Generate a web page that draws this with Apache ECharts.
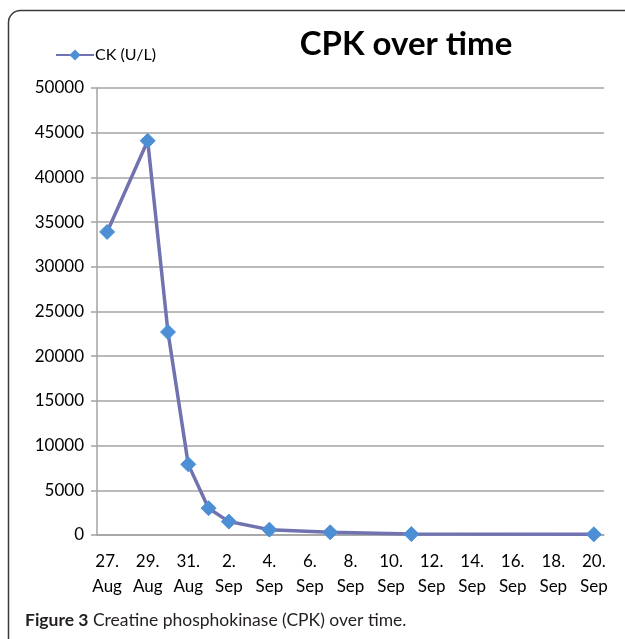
<!DOCTYPE html>
<html>
<head>
<meta charset="utf-8">
<script src="https://cdn.jsdelivr.net/npm/echarts@6/dist/echarts.min.js"></script>
<style>
  html, body { margin: 0; padding: 0; background: #fff; }
  #chart { width: 625px; height: 639px; }
</style>
</head>
<body>
<div id="chart"></div>
<script>
(function() {
  'use strict';

  // one category per day, 27 Aug .. 20 Sep
  var days = [
    '27. Aug', '28. Aug', '29. Aug', '30. Aug', '31. Aug',
    '1. Sep', '2. Sep', '3. Sep', '4. Sep', '5. Sep', '6. Sep',
    '7. Sep', '8. Sep', '9. Sep', '10. Sep', '11. Sep', '12. Sep',
    '13. Sep', '14. Sep', '15. Sep', '16. Sep', '17. Sep', '18. Sep',
    '19. Sep', '20. Sep'
  ];
  // CK (U/L), null where no sample was taken
  var ckValues = [
    33900, null, 44100, 22700, 7900,
    3000, 1500, null, 600, null, null,
    300, null, null, null, 100, null,
    null, null, null, null, null, null,
    null, 80
  ];
  var yTicks = [0, 50000, 5000];

  var font = 'Lato, "Open Sans", sans-serif';
  var lineColor = '#7173b1';
  var markerColor = '#4d8fd5';
  var gridColor = '#a3a3a3';

  var chart = echarts.init(document.getElementById('chart'), null, { renderer: 'canvas' });

  chart.setOption({
    animation: false,
    textStyle: { fontFamily: font },
    title: {
      text: 'CPK over time',
      left: 401,
      top: 23,
      textAlign: 'center',
      textStyle: { fontFamily: font, fontSize: 33, fontWeight: 'bold', color: '#000' }
    },
    legend: {
      data: ['CK (U/L)'],
      left: 50,
      top: 42,
      itemWidth: 38,
      itemHeight: 14,
      itemGap: 4,
      textStyle: { fontFamily: font, fontSize: 16, color: '#000', padding: [0, 0, 0, -4] }
    },
    grid: { left: 97, right: 21, top: 88, bottom: 104, containLabel: false },
    xAxis: {
      type: 'category',
      data: days,
      boundaryGap: true,
      axisLine: { lineStyle: { color: gridColor, width: 1.5 } },
      axisTick: { interval: 1, length: 6, lineStyle: { color: gridColor, width: 1.5 } },
      axisLabel: {
        interval: 1,
        margin: 14,
        fontSize: 17,
        lineHeight: 25,
        color: '#000',
        formatter: function(v) { return v.replace(' ', '\n'); }
      },
      splitLine: { show: false }
    },
    yAxis: {
      type: 'value',
      min: yTicks[0],
      max: yTicks[1],
      interval: yTicks[2],
      axisLine: { show: true, lineStyle: { color: gridColor, width: 1.5 } },
      axisTick: { show: true, length: 6, lineStyle: { color: gridColor, width: 1.5 } },
      axisLabel: {
        margin: 13,
        fontSize: 17,
        color: '#000',
        formatter: function(v) { return String(v); }
      },
      splitLine: { lineStyle: { color: gridColor, width: 1.5 } }
    },
    series: [{
      name: 'CK (U/L)',
      type: 'line',
      data: ckValues,
      connectNulls: true,
      showAllSymbol: true,
      symbol: 'diamond',
      symbolSize: 15,
      lineStyle: { color: lineColor, width: 3.5 },
      itemStyle: { color: markerColor, borderColor: markerColor }
    }],
    graphic: [
      {
        type: 'rect',
        shape: { x: 8.5, y: 10.5, width: 700, height: 700, r: 12 },
        style: { fill: 'none', stroke: '#3a3a3a', lineWidth: 1.5 },
        silent: true
      },
      {
        type: 'text',
        left: 25,
        top: 611,
        style: {
          text: '{b|Figure 3} Creatine phosphokinase (CPK) over time.',
          font: '17.5px ' + font,
          fill: '#231f20',
          rich: {
            b: { fontFamily: font, fontSize: 17.5, fontWeight: 'bold', fill: '#231f20' }
          }
        }
      }
    ]
  });

  window.addEventListener('resize', function() {
    chart && chart.resize();
  });
})();
</script>
</body>
</html>
